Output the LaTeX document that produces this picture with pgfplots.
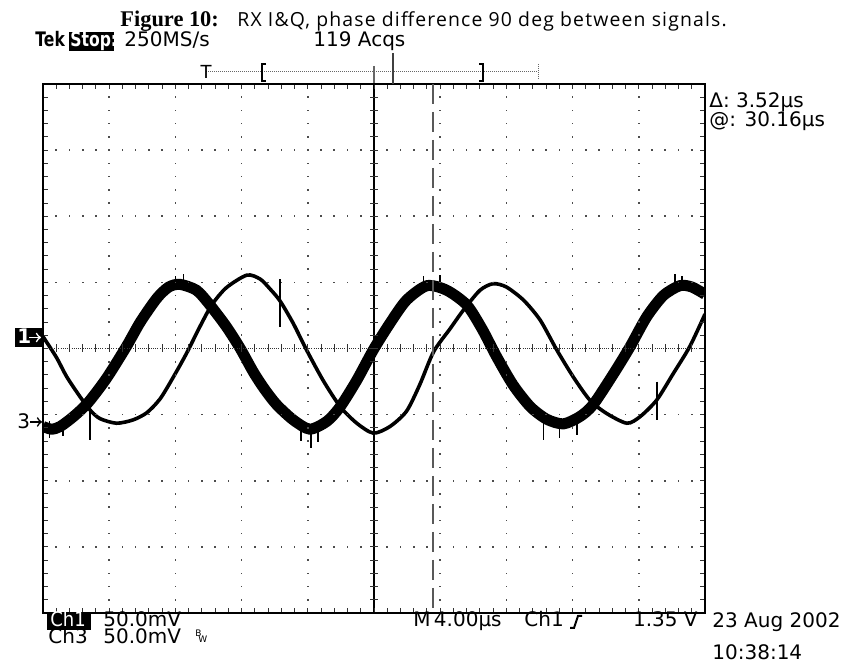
\documentclass[border=0pt]{standalone}
\usepackage{fontspec}
\usepackage{pgfplots}
\pgfplotsset{compat=1.18}
\setmainfont{DejaVu Sans}
\newfontfamily\scopecond[FakeStretch=0.78]{DejaVu Sans}
\newfontfamily\scopenarrow[FakeStretch=0.9]{DejaVu Sans}
\newfontfamily\titlesans[LetterSpace=6]{Open Sans}
\newfontfamily\titleserif{Liberation Serif}

\pgfplotstableread{
x y
0 -1.18
0.13 -1.22
0.26 -1.18
0.46 -1.03
0.68 -0.82
0.96 -0.45
1.26 0.03
1.47 0.40
1.72 0.76
1.90 0.93
2.07 0.97
2.32 0.88
2.52 0.66
2.77 0.33
2.98 0.00
3.18 -0.36
3.35 -0.62
3.53 -0.85
3.78 -1.08
4.03 -1.22
4.29 -1.10
4.49 -0.88
4.74 -0.48
4.99 -0.02
5.24 0.38
5.49 0.73
5.80 0.95
6.10 0.88
6.40 0.66
6.63 0.30
6.85 -0.12
7.10 -0.55
7.36 -0.88
7.61 -1.07
7.86 -1.14
8.11 -1.03
8.31 -0.85
8.62 -0.38
8.87 0.03
9.12 0.48
9.37 0.80
9.62 0.95
9.80 0.93
10.0 0.82
}\chthree

\pgfplotstableread{
x y
0 0.18
0.20 -0.13
0.36 -0.43
0.56 -0.73
0.71 -0.93
0.86 -1.06
1.11 -1.13
1.36 -1.08
1.57 -0.97
1.77 -0.76
1.97 -0.43
2.17 -0.07
2.37 0.33
2.55 0.66
2.77 0.92
3.08 1.11
3.28 1.05
3.43 0.90
3.58 0.72
3.78 0.38
3.98 -0.02
4.23 -0.48
4.49 -0.88
4.74 -1.13
4.99 -1.28
5.24 -1.18
5.49 -0.95
5.69 -0.55
5.90 -0.05
6.15 0.30
6.35 0.58
6.60 0.88
6.80 0.98
7.00 0.93
7.26 0.73
7.51 0.43
7.76 -0.02
8.01 -0.43
8.26 -0.78
8.51 -0.98
8.82 -1.13
9.02 -1.03
9.27 -0.78
9.52 -0.38
9.77 0.03
10.0 0.52
}\chone

\begin{document}
\begin{tikzpicture}
\path[use as bounding box] (0,0) rectangle (425.5pt,331pt);
\begin{axis}[at={(21.5pt,24.5pt)}, anchor=south west,
  width=331pt, height=264.5pt, scale only axis,
  xmin=0, xmax=10, ymin=-4, ymax=4, hide axis, clip=true,
  unbounded coords=jump]
\addplot[black, line width=5.5pt, smooth, tension=0.45] table[x=x,y=y] {\chthree};
\addplot[black, line width=1.8pt, smooth, tension=0.45] table[x=x,y=y] {\chone};
% noise spikes
\addplot[black, line width=1pt] coordinates {(0.71,-0.70) (0.71,-1.38) (nan,nan)
  (3.58,1.05) (3.58,0.32) (nan,nan) (9.28,-0.50) (9.28,-1.08)};
\addplot[black, line width=0.8pt] coordinates {
  (0.10,-1.10) (0.10,-1.36) (nan,nan) (0.30,-1.10) (0.30,-1.33) (nan,nan)
  (2.00,0.90) (2.00,1.10) (nan,nan) (2.12,0.90) (2.12,1.12) (nan,nan)
  (3.90,-1.15) (3.90,-1.40) (nan,nan) (4.05,-1.15) (4.05,-1.50) (nan,nan)
  (4.15,-1.12) (4.15,-1.42) (nan,nan)
  (5.75,0.90) (5.75,1.10) (nan,nan) (6.00,0.85) (6.00,1.11) (nan,nan)
  (7.56,-1.05) (7.56,-1.39) (nan,nan) (7.80,-1.10) (7.80,-1.36) (nan,nan)
  (8.07,-1.00) (8.07,-1.31) (nan,nan)
  (9.55,0.90) (9.55,1.12) (nan,nan) (9.65,0.90) (9.65,1.10)};
\end{axis}
\begin{scope}[x=0.5pt, y=-0.5pt, shift={(0pt,331pt)}]
\def\L{43}\def\T{84}\def\DX{66.2}\def\DY{66.125}
% graticule dots
\foreach \i in {1,2,3,4,6,7,8,9}{
  \foreach \k in {1,...,39}{
    \fill[black!70] ({\L+\i*\DX-0.8},{\T+\k*\DY/5-0.8}) rectangle ++(1.6,1.6);
  }
}
\foreach \j in {1,2,3,5,6,7}{
  \foreach \k in {1,...,49}{
    \fill[black!70] ({\L+\k*\DX/5-0.8},{\T+\j*\DY-0.8}) rectangle ++(1.6,1.6);
  }
}
% center lines
\draw[black!80, line width=0.6pt, dash pattern=on 0.5pt off 0.6pt] (\L,{\T+4*\DY}) -- ({\L+10*\DX},{\T+4*\DY});
\foreach \k in {1,...,49}{
  \draw[black!80, line width=0.5pt] ({\L+\k*\DX/5},{\T+4*\DY-4}) -- ++(0,8);
}
\draw[black, line width=0.8pt] ({\L+5*\DX},\T) -- ({\L+5*\DX},{\T+8*\DY});
\foreach \k in {1,...,39}{
  \draw[black!80, line width=0.5pt] ({\L+5*\DX-4},{\T+\k*\DY/5}) -- ++(8,0);
}
% frame ticks
\foreach \k in {1,...,49}{
  \draw[black!80, line width=0.5pt] ({\L+\k*\DX/5},\T) -- ++(0,5);
  \draw[black!80, line width=0.5pt] ({\L+\k*\DX/5},{\T+8*\DY}) -- ++(0,-5);
}
\foreach \k in {1,...,39}{
  \draw[black!80, line width=0.5pt] (\L,{\T+\k*\DY/5}) -- ++(5,0);
  \draw[black!80, line width=0.5pt] ({\L+10*\DX},{\T+\k*\DY/5}) -- ++(-5,0);
}
\draw[black, line width=1pt] (\L,\T) rectangle ({\L+10*\DX},{\T+8*\DY});
% cursor
\draw[black!65, line width=1pt, dash pattern=on 10pt off 4pt] (433,84) -- (433,613);

% title
\node[anchor=base west, inner sep=0, font=\titleserif\bfseries\fontsize{11.2}{13}\selectfont] at (120,27) {Figure 10:};
\node[anchor=base west, inner sep=0, font=\titlesans\fontsize{9.7}{12}\selectfont] at (237,27) {RX I\&Q, phase difference 90 deg between signals.};

% header
\node[anchor=base west, inner sep=0, font=\scopecond\bfseries\fontsize{10}{12}\selectfont] at (35,47) {Tek};
\fill[black] (69,32) rectangle (114,51);
\node[anchor=base west, inner sep=0, text=white, font=\scopecond\bfseries\fontsize{10}{12}\selectfont] at (70,47) {Stop:};
\node[anchor=base west, inner sep=0, font=\fontsize{10}{12}\selectfont] at (124,47) {250MS/s};
\node[anchor=base west, inner sep=0, font=\fontsize{10}{12}\selectfont] at (313,47) {119 Acqs};

% trigger bar
\draw[black!60, line width=0.5pt, dash pattern=on 0.5pt off 0.5pt] (206,72) -- (538,72);
\node[anchor=base, inner sep=0, font=\fontsize{9}{12}\selectfont] at (206,79) {T};
\draw[black, line width=1pt] (266,64) -- (262,64) -- (262,81) -- (266,81);
\draw[black, line width=1pt] (479,64) -- (483,64) -- (483,81) -- (479,81);
\draw[black!60, line width=0.6pt] (374,66) -- (374,83);
\draw[black!75, line width=0.8pt] (393,53) -- (393,84);
\draw[black!60, line width=0.5pt, dash pattern=on 0.5pt off 0.5pt] (538,64) -- (538,80);

% cursor readouts
\node[anchor=base west, inner sep=0, font=\fontsize{10}{12}\selectfont] at (709,108) {Δ: 3.52µs};
\node[anchor=base west, inner sep=0, font=\fontsize{10}{12}\selectfont] at (709,127) {@: 30.16µs};

% channel markers
\fill[black] (15,328) rectangle (43,347);
\node[anchor=base west, inner sep=0, text=white, font=\bfseries\fontsize{10}{12}\selectfont] at (17,344) {1};
\draw[white, line width=0.8pt, ->] (29,337.5) -- (41,337.5);
\node[anchor=base west, inner sep=0, font=\fontsize{10}{12}\selectfont] at (17,429) {3};
\draw[black, line width=0.8pt, ->] (30,422) -- (42,422);

% bottom
\fill[black] (47,614) rectangle (91,630);
\node[anchor=base west, inner sep=0, text=white, font=\scopenarrow\fontsize{10}{12}\selectfont] at (50,627) {Ch1};
\node[anchor=base west, inner sep=0, font=\fontsize{10}{12}\selectfont] at (103,627) {50.0mV};
\node[anchor=base west, inner sep=0, font=\fontsize{10}{12}\selectfont] at (48,644) {Ch3};
\node[anchor=base west, inner sep=0, font=\fontsize{10}{12}\selectfont] at (103,644) {50.0mV};
\node[anchor=base west, inner sep=0, font=\fontsize{4.5}{5}\selectfont] at (195,637) {B};
\node[anchor=base west, inner sep=0, font=\fontsize{4.5}{5}\selectfont] at (198,643) {W};
\node[anchor=base west, inner sep=0, font=\fontsize{10}{12}\selectfont] at (413,627) {M\,4.00µs};
\node[anchor=base west, inner sep=0, font=\fontsize{10}{12}\selectfont] at (524,627) {Ch1};
\draw[black, line width=1pt] (570,628) -- (574,628) -- (578,616) -- (582,616);
\node[anchor=base east, inner sep=0, font=\fontsize{10}{12}\selectfont] at (698,627) {1.35 V};
\node[anchor=base west, inner sep=0, font=\fontsize{10}{12}\selectfont] at (712,628) {23 Aug 2002};
\node[anchor=base west, inner sep=0, font=\fontsize{10}{12}\selectfont] at (712,660) {10:38:14};
\end{scope}
\end{tikzpicture}
\end{document}
